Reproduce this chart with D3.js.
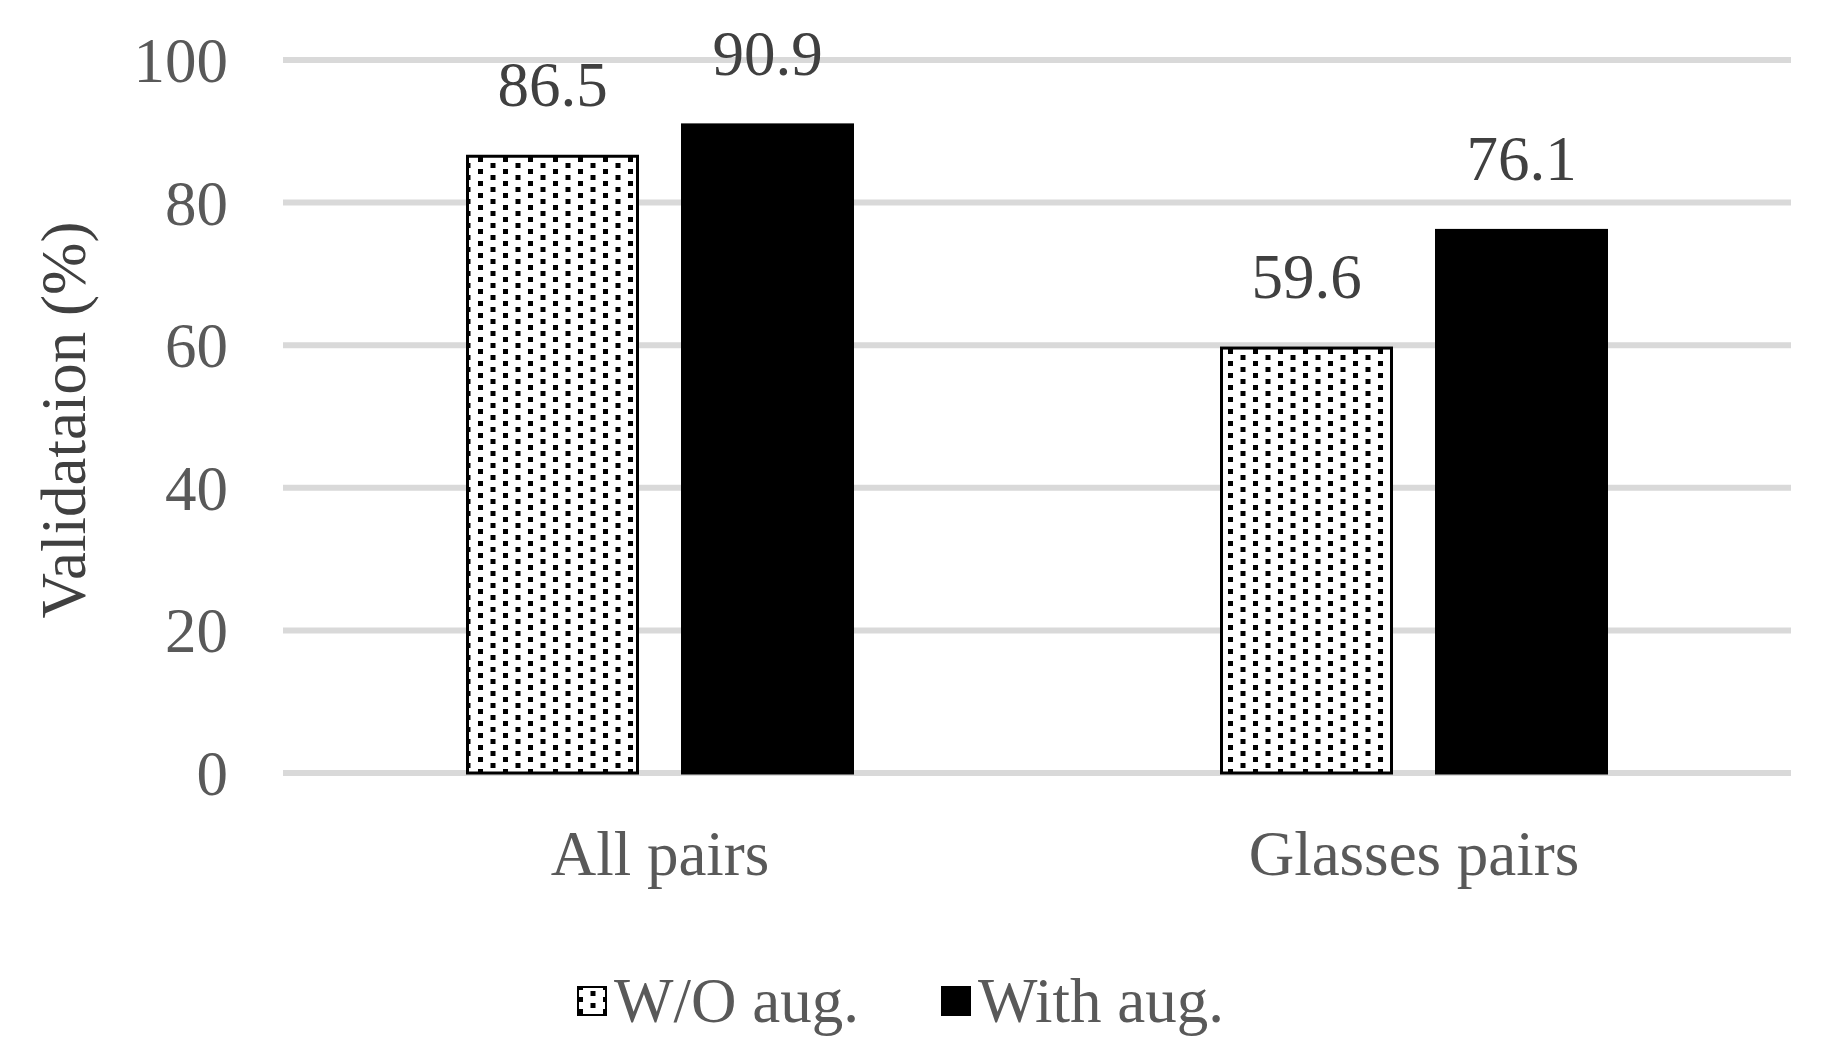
<!DOCTYPE html>
<html><head><meta charset="utf-8">
<script src="https://cdn.jsdelivr.net/npm/d3@7"></script>
<style>body{margin:0;background:#fff}</style>
</head><body>
<svg id="chart" width="1824" height="1060"></svg>
<script>
var categories = ["All pairs", "Glasses pairs"];
var seriesNames = ["W/O aug.", "With aug."];
var woAug = [86.5, 59.6];
var withAug = [90.9, 76.1];
var yTicks = [0, 20, 40, 60, 80, 100];

var svg = d3.select("#chart");
var font = "'Liberation Serif', 'Times New Roman', serif";
var fs = 63;

var defs = svg.append("defs");
var pat = defs.append("pattern").attr("id", "dots").attr("patternUnits", "userSpaceOnUse")
  .attr("width", 25).attr("height", 12);
pat.append("rect").attr("width", 25).attr("height", 12).attr("fill", "#fff");
pat.append("rect").attr("x", 3).attr("y", 1).attr("width", 5).attr("height", 5).attr("fill", "#000");
pat.append("rect").attr("x", 15.5).attr("y", 7).attr("width", 5).attr("height", 5).attr("fill", "#000");

var x = d3.scaleBand().domain(categories).range([283, 1791]);
var y = d3.scaleLinear().domain([0, 100]).range([773, 60]);

svg.append("g").selectAll("line").data(yTicks).enter().append("line")
  .attr("x1", 283).attr("x2", 1791)
  .attr("y1", function(d) { return y(d); }).attr("y2", function(d) { return y(d); })
  .attr("stroke", "#d9d9d9").attr("stroke-width", 6);

svg.append("g").selectAll("text").data(yTicks).enter().append("text")
  .attr("x", 228).attr("y", function(d) { return y(d) + 22; })
  .attr("text-anchor", "end").attr("font-family", font).attr("font-size", fs)
  .attr("fill", "#595959").text(function(d) { return d; });

var barW = 170, gap = 45;
var series = [
  { name: seriesNames[0], values: woAug, fill: "url(#dots)", off: -gap / 2 - barW },
  { name: seriesNames[1], values: withAug, fill: "#000", off: gap / 2 }
];

series.forEach(function(s) {
  var g = svg.append("g");
  g.selectAll("rect").data(s.values).enter().append("rect")
    .attr("x", function(d, i) { return x(categories[i]) + x.bandwidth() / 2 + s.off; })
    .attr("y", function(d) { return y(d); })
    .attr("width", barW)
    .attr("height", function(d) { return y(0) - y(d); })
    .attr("fill", s.fill).attr("stroke", "#000").attr("stroke-width", 3);
  g.selectAll("text").data(s.values).enter().append("text")
    .attr("x", function(d, i) { return x(categories[i]) + x.bandwidth() / 2 + s.off + barW / 2; })
    .attr("y", function(d) { return y(d) - 50; })
    .attr("text-anchor", "middle").attr("font-family", font).attr("font-size", fs)
    .attr("fill", "#404040").text(function(d) { return d.toFixed(1); });
});

svg.append("g").selectAll("text").data(categories).enter().append("text")
  .attr("x", function(d) { return x(d) + x.bandwidth() / 2; })
  .attr("y", 875).attr("text-anchor", "middle")
  .attr("font-family", font).attr("font-size", fs).attr("fill", "#595959")
  .text(function(d) { return d; });

svg.append("text")
  .attr("transform", "translate(85,420) rotate(-90)")
  .attr("text-anchor", "middle").attr("font-family", font).attr("font-size", fs)
  .attr("fill", "#404040").text("Validataion (%)");

var legend = [
  { name: seriesNames[0], fill: "url(#dots)", x: 578 },
  { name: seriesNames[1], fill: "#000", x: 942 }
];
var lg = svg.append("g").selectAll("g").data(legend).enter().append("g");
lg.append("rect").attr("x", function(d) { return d.x; }).attr("y", 987)
  .attr("width", 28).attr("height", 28).attr("fill", function(d) { return d.fill; })
  .attr("stroke", "#000").attr("stroke-width", 2);
lg.append("text").attr("x", function(d) { return d.x + 36; }).attr("y", 1022)
  .attr("font-family", font).attr("font-size", fs).attr("fill", "#595959")
  .text(function(d) { return d.name; });
</script>
</body></html>
